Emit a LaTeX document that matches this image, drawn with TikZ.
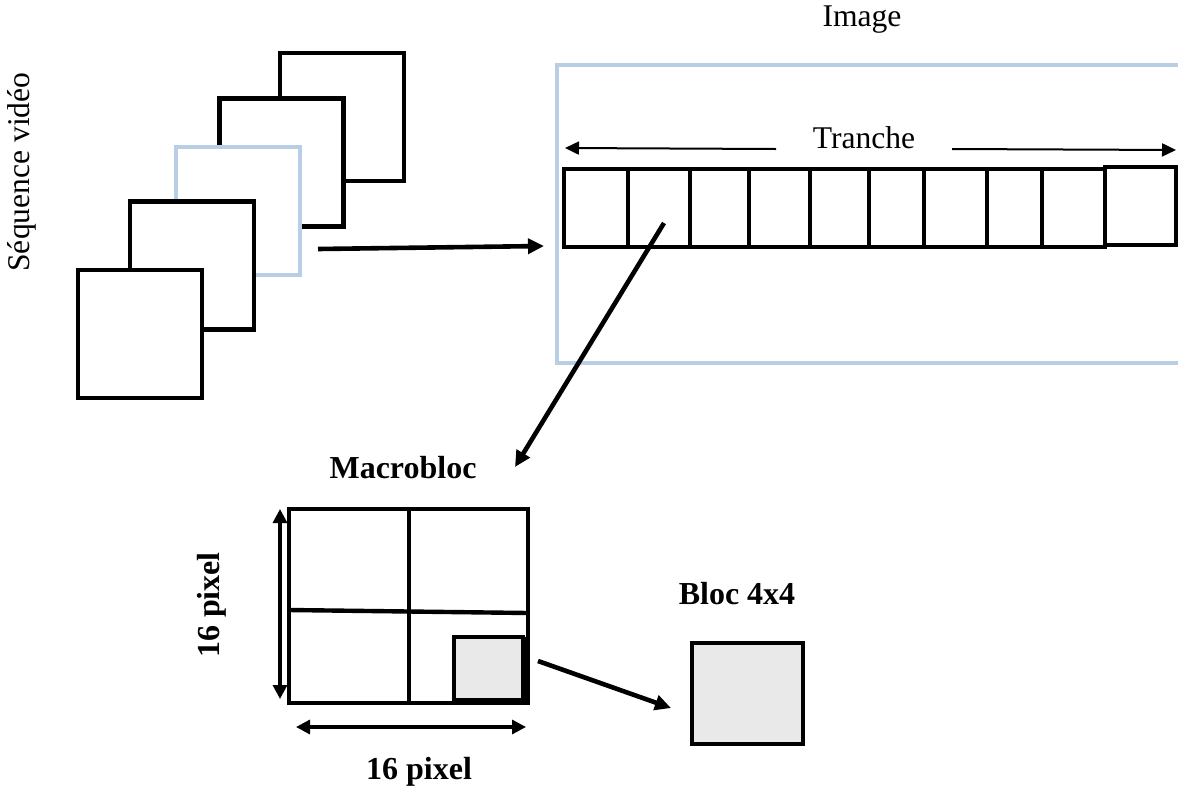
\documentclass[tikz,border=0pt]{standalone}
\usepackage{fontspec}
\setmainfont{Liberation Serif}
\usetikzlibrary{arrows.meta}
\definecolor{frameblue}{RGB}{185,205,229}
\definecolor{grain}{RGB}{233,233,233}

\begin{document}
\begin{tikzpicture}[x=0.5pt,y=-0.5pt,
  frame/.style={draw,line width=2.4pt,fill=white,minimum width=62pt,minimum height=64pt,inner sep=0pt},
  txt/.style={font=\fontsize{15.8}{18}\selectfont,inner sep=0pt},
  btxt/.style={font=\fontsize{16}{18}\selectfont\bfseries,inner sep=0pt},
  cell/.style={line width=1.6pt},
  thick arrow/.style={line width=2.3pt,-{Triangle[length=8pt,width=7.5pt]}},
  thin arrow/.style={line width=1pt,-{Triangle[length=7pt,width=6.5pt]}},
  dim arrow/.style={line width=1.6pt,{Triangle[length=7pt,width=7pt]}-{Triangle[length=7pt,width=7pt]}}]
\useasboundingbox (0,0) rectangle (1178,793);

% sequence of frames
\node[frame] (f1) at (342,117) {};
\node[frame] (f2) at (281.5,162.5) {};
\node[frame,draw=frameblue] (f3) at (238,211) {};
\node[frame] (f4) at (192,265.5) {};
\node[frame] (f5) at (140,334) {};
\node[txt,rotate=90] (seq) at (22,172) {Séquence vidéo};

% image with its slice
\node[draw=frameblue,line width=2.2pt,minimum width=320pt,minimum height=149pt,inner sep=0pt] (img) at (877,214) {};
\node[txt] (imglbl) at (862,20) {Image};
\foreach \a/\b in {564/628,628/690,690/749,749/810,810/869,869/924,924/987,987/1042,1042/1105}
  \draw[cell] (\a,169) rectangle (\b,247);
\draw[cell] (1105,167) rectangle (1176,245);
\node[txt] (tr) at (864,138) {Tranche};
\coordinate (trl) at (565,148);
\coordinate (trr) at (1176,150);
\draw[thin arrow] (776,149) -- (trl);
\draw[thin arrow] (952,149) -- (trr);

\coordinate (seqout) at (318,249);
\coordinate (imgin) at (544,246);
\draw[thick arrow] (seqout) -- (imgin);

% macrobloc
\node[btxt] (mblbl) at (403,468) {Macrobloc};
\node[draw,line width=2.4pt,minimum width=119.5pt,minimum height=97pt,inner sep=0pt] (mb) at (408.5,606) {};
\draw[line width=2.2pt] (409,509) -- (409,703);
\draw[line width=2.2pt] (289,610) -- (528,613);
\node[draw,line width=1.6pt,fill=grain,minimum width=34.5pt,minimum height=31.5pt,inner sep=0pt] (sb) at (488.5,668.5) {};
\draw[line width=2.4pt] (525,637) -- (525,703);

\coordinate (mbsrc) at (664,223);
\coordinate (mbin) at (515,467);
\draw[thick arrow] (mbsrc) -- (mbin);

\coordinate (vt) at (280,509);
\coordinate (vb) at (280,699);
\draw[dim arrow] (vt) -- (vb);
\coordinate (hl) at (296,727);
\coordinate (hr) at (526,727);
\draw[dim arrow] (hl) -- (hr);
\node[btxt,rotate=90] (vlbl) at (212,605) {16 pixel};
\node[btxt] (hlbl) at (419,772) {16 pixel};

% 4x4 block
\node[btxt] (blbl) at (737,594) {Bloc 4x4};
\node[draw,line width=1.7pt,fill=grain,minimum width=55.5pt,minimum height=50.5pt,inner sep=0pt] (bl) at (747.5,693.5) {};
\coordinate (sbout) at (538,661);
\coordinate (blin) at (671,708);
\draw[thick arrow] (sbout) -- (blin);
\end{tikzpicture}
\end{document}
